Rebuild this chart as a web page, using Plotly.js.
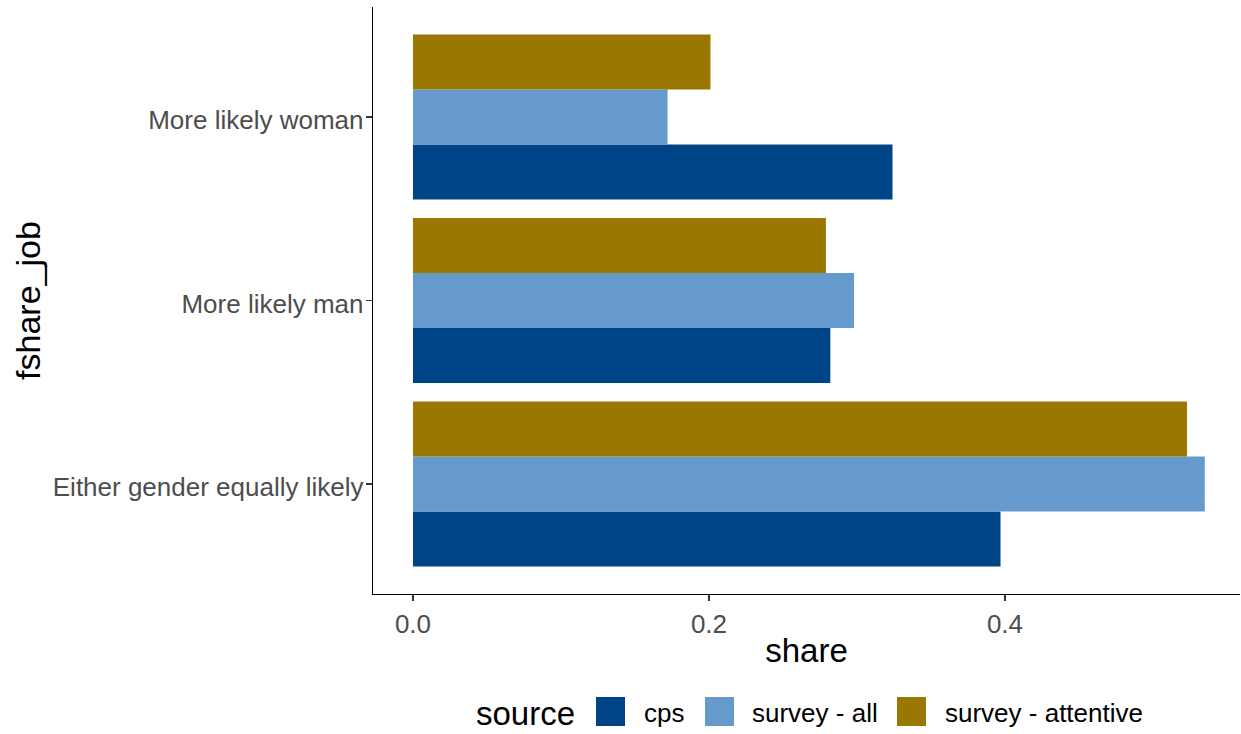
<!DOCTYPE html>
<html>
<head>
<meta charset="utf-8">
<script src="https://cdn.plot.ly/plotly-3.0.1.min.js"></script>
<style>html,body{margin:0;padding:0;background:#fff;}#chart{width:1241px;height:734px;}</style>
</head>
<body>
<div id="chart"></div>
<script>
// ---- data ----
var categories = ["Either gender equally likely", "More likely man", "More likely woman"];
var sources = ["cps", "survey - all", "survey - attentive"];
var cpsValues = [0.397, 0.282, 0.324];
var surveyAllValues = [0.535, 0.298, 0.172];
var surveyAttentiveValues = [0.523, 0.279, 0.201];
var sourceColors = ["#004488", "#6699CC", "#997700"];
var xTickValues = [0, 0.2, 0.4];
var xTickLabels = ["0.0", "0.2", "0.4"];

var seriesValues = [cpsValues, surveyAllValues, surveyAttentiveValues];

var W = 1241, H = 734;
var M = {l: 373, r: 1, t: 7, b: 140};
var PW = W - M.l - M.r, PH = H - M.t - M.b;
function px(x){ return (x - M.l) / PW; }
function py(y){ return (H - M.b - y) / PH; }

var FONT = "Liberation Sans, Arial, sans-serif";

var traces = sources.map(function(s, i){
  return {
    type: "bar",
    orientation: "h",
    name: s,
    y: categories,
    x: seriesValues[i],
    marker: {color: sourceColors[i], line: {width: 0}},
    showlegend: false,
    hoverinfo: "x+y+name"
  };
});

// manual legend (large square keys as in the reference)
var legendBoxX = [596, 705, 897];
var legendTextX = [642, 750, 943];
var shapes = [];
var annotations = [{
  xref: "paper", yref: "paper", x: px(474), y: py(713),
  xanchor: "left", yanchor: "middle", showarrow: false,
  text: "source", font: {family: FONT, size: 33, color: "#000"}
}];
sources.forEach(function(s, i){
  shapes.push({
    type: "rect", xref: "paper", yref: "paper",
    x0: px(legendBoxX[i]), x1: px(legendBoxX[i] + 29),
    y0: py(726), y1: py(697),
    fillcolor: sourceColors[i], line: {width: 0}
  });
  annotations.push({
    xref: "paper", yref: "paper", x: px(legendTextX[i]), y: py(713),
    xanchor: "left", yanchor: "middle", showarrow: false,
    text: s, font: {family: FONT, size: 26, color: "#000"}
  });
});

var layout = {
  width: W, height: H,
  margin: M,
  paper_bgcolor: "#fff", plot_bgcolor: "#fff",
  barmode: "group", bargap: 0.1, bargroupgap: 0,
  showlegend: false,
  font: {family: FONT},
  xaxis: {
    range: [-0.027, 0.5588],
    tickvals: xTickValues, ticktext: xTickLabels,
    ticks: "outside", ticklen: 6, tickwidth: 1.2, tickcolor: "#333",
    tickfont: {family: FONT, size: 26, color: "#4D4D4D"},
    showline: true, linecolor: "#000", linewidth: 1.3,
    showgrid: false, zeroline: false,
    title: {text: "share", font: {family: FONT, size: 33, color: "#000"}, standoff: 1}
  },
  yaxis: {
    type: "category",
    categoryorder: "array", categoryarray: categories,
    range: [-0.6, 2.6],
    ticks: "outside", ticklen: 6, tickwidth: 1.2, tickcolor: "#333",
    ticklabelstandoff: -3,
    ticklabelshift: 3,
    tickfont: {family: FONT, size: 26, color: "#4D4D4D"},
    showline: true, linecolor: "#000", linewidth: 1.3,
    showgrid: false, zeroline: false,
    title: {text: "fshare_job", font: {family: FONT, size: 34, color: "#000"}, standoff: 2}
  },
  shapes: shapes,
  annotations: annotations
};

Plotly.newPlot("chart", traces, layout, {displayModeBar: false, staticPlot: true});
</script>
</body>
</html>
